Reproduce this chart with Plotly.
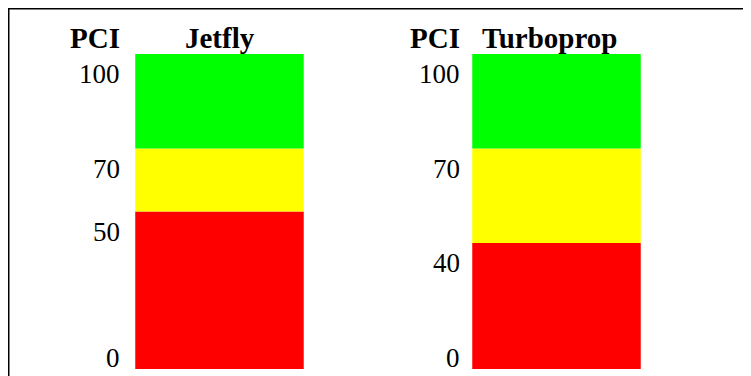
import plotly.graph_objects as go

# ---- data ----
aircraft = ["Jetfly", "Turboprop"]
jetfly_thresholds = [0, 50, 70, 100]
turboprop_thresholds = [0, 40, 70, 100]
band_colors = ["#FF0000", "#FFFF00", "#00FF00"]
axis_title = "PCI"

W, H = 751, 376
fig = go.Figure()

thresholds = [jetfly_thresholds, turboprop_thresholds]
for i, name in enumerate(aircraft):
    th = thresholds[i]
    for k in range(len(th) - 1):
        fig.add_trace(go.Bar(
            x=[i], y=[th[k + 1] - th[k]], base=[th[k]],
            width=0.5, marker=dict(color=band_colors[k], line=dict(width=0)),
            showlegend=False, hoverinfo="skip",
        ))

# the page body adds an 8px margin; layout positions are given in figure pixels
def px(xp):
    return xp / W

def py(yp):
    return 1 - yp / H

font_b = dict(family="Liberation Serif", size=29, color="black")
font_n = dict(family="Liberation Serif", size=27, color="black")
label_x = [114.5, 454]
title_x = [175, 472]
annotations = []
for i, name in enumerate(aircraft):
    annotations.append(dict(text="<b>" + axis_title + "</b>", xref="paper", yref="paper",
                            x=px(label_x[i]), y=py(30), xanchor="right", yanchor="middle",
                            showarrow=False, font=font_b))
    annotations.append(dict(text="<b>" + name + "</b>", xref="paper", yref="paper",
                            x=px(title_x[i]), y=py(30), xanchor="left", yanchor="middle",
                            showarrow=False, font=font_b))
    for v in thresholds[i]:
        annotations.append(dict(text=str(v), xref="paper", yref="y",
                                x=px(label_x[i]), y=v,
                                xanchor="right", yanchor="bottom" if v == 0 else "top",
                                yshift=-6 if v == 0 else -3,
                                showarrow=False, font=font_n))

# axis ranges chosen so that bars sit at the reference positions
ppu_x = 337.0
x0 = -211.5 / ppu_x
ppu_y = 3.15
y0 = -(H - 361) / ppu_y
y1 = 100 + 46 / ppu_y

fig.update_layout(
    width=W, height=H,
    margin=dict(l=0, r=0, t=0, b=0),
    paper_bgcolor="white", plot_bgcolor="white",
    barmode="overlay",
    xaxis=dict(range=[x0, x0 + W / ppu_x], visible=False, fixedrange=True),
    yaxis=dict(range=[y0, y1], visible=False, fixedrange=True),
    annotations=annotations,
    shapes=[dict(type="rect", xref="paper", yref="paper",
                 x0=0, x1=1.05, y0=-0.05, y1=1,
                 line=dict(color="black", width=3), fillcolor="rgba(0,0,0,0)")],
)

fig.write_html("out.html", config={"displayModeBar": False})
